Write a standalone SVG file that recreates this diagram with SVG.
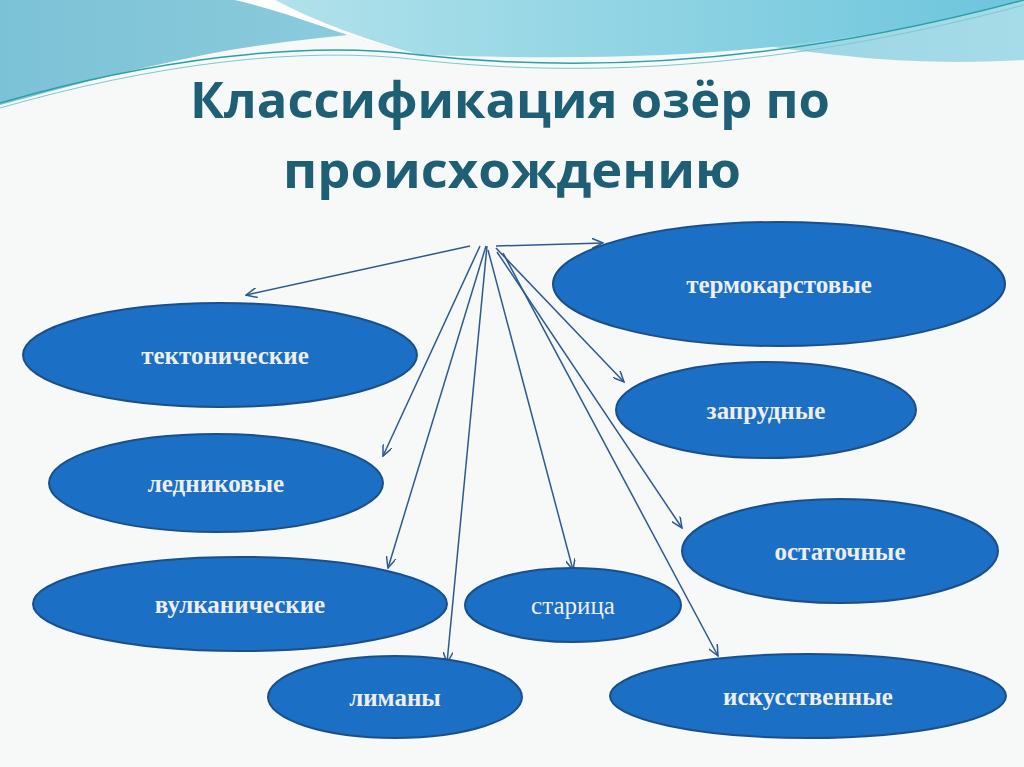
<svg xmlns="http://www.w3.org/2000/svg" width="1024" height="767" viewBox="0 0 1024 767">
<defs>
<style>
.n{fill:#1b6fc4;stroke:#1a4f8a;stroke-width:2}
.t{font-family:"Liberation Serif",serif;font-weight:bold;font-size:25px;fill:#eeeeee;text-anchor:middle}
.c line{stroke:#2d5a8e;stroke-width:1.5;marker-end:url(#a)}
</style>
<marker id="a" markerWidth="12" markerHeight="10" refX="11" refY="5" orient="auto" markerUnits="userSpaceOnUse"><path d="M0,0 L11,5 L0,10" fill="none" stroke="#2d5a8e" stroke-width="1.5"/></marker>
<linearGradient id="g1" x1="0" y1="0" x2="1" y2="0"><stop offset="0" stop-color="#7cc2d6"/><stop offset="1" stop-color="#a6dce8"/></linearGradient>
<linearGradient id="g2" x1="0" y1="0" x2="1" y2="0"><stop offset="0" stop-color="#b5e3ec"/><stop offset="1" stop-color="#6cc5dc"/></linearGradient>
</defs>
<rect width="1024" height="767" fill="#f7f8f8"/>
<path d="M0,0 H1024 V60 C930,65 860,60 760,45 C600,20 420,20 230,50 C120,70 40,95 0,105 Z" fill="url(#g1)"/>
<path d="M250,0 C380,20 480,50 560,70 C660,70 760,60 1024,10 V0 Z" fill="#ffffff" opacity="0"/>
<path d="M235,0 C300,15 350,40 420,55 C600,60 800,62 1024,0 Z" fill="url(#g2)"/>
<path d="M235,0 C300,15 350,40 420,55 C350,35 310,18 275,0 Z" fill="#ffffff"/>
<path d="M0,103 C150,60 300,40 420,55 C600,75 800,60 1024,0" fill="none" stroke="#2ba0a8" stroke-width="1.5"/>
<path d="M0,108 C150,65 300,45 420,60 C600,80 800,65 1024,5" fill="none" stroke="#7fc9d0" stroke-width="1"/>
<g id="title" font-family="'Open Sans',sans-serif" font-weight="bold" font-size="50" fill="#1f5f76" text-anchor="middle">
<text x="510" y="118" textLength="640" lengthAdjust="spacingAndGlyphs">Классификация озёр по</text>
<text x="512" y="188" textLength="458" lengthAdjust="spacingAndGlyphs">происхождению</text>
</g>
<g class="c" id="connectors">
<line x1="470" y1="246" x2="246" y2="295"/>
<line x1="480" y1="246" x2="383" y2="456"/>
<line x1="486" y1="246" x2="388" y2="568"/>
<line x1="487" y1="246" x2="447" y2="663"/>
<line x1="488" y1="250" x2="573" y2="570"/>
<line x1="496" y1="248" x2="624" y2="382"/>
<line x1="497" y1="252" x2="682" y2="528"/>
<line x1="503" y1="253" x2="718" y2="656"/>
<line x1="496" y1="246" x2="603" y2="243"/>
</g>
<g id="n1"><ellipse class="n" cx="779" cy="284" rx="226" ry="62"/><text class="t" x="779" y="293">термокарстовые</text></g>
<g id="n2"><ellipse class="n" cx="220" cy="355" rx="197" ry="52"/><text class="t" x="225" y="364">тектонические</text></g>
<g id="n3"><ellipse class="n" cx="766" cy="410" rx="150" ry="48"/><text class="t" x="766" y="419">запрудные</text></g>
<g id="n4"><ellipse class="n" cx="216" cy="483" rx="167" ry="49"/><text class="t" x="216" y="492">ледниковые</text></g>
<g id="n5"><ellipse class="n" cx="840" cy="551" rx="158" ry="52"/><text class="t" x="840" y="560">остаточные</text></g>
<g id="n6"><ellipse class="n" cx="240" cy="604" rx="207" ry="47"/><text class="t" x="240" y="613">вулканические</text></g>
<g id="n7"><ellipse class="n" cx="573" cy="605" rx="108" ry="37"/><text class="t" x="573" y="614" style="font-weight:normal">старица</text></g>
<g id="n8"><ellipse class="n" cx="395" cy="697" rx="127" ry="41"/><text class="t" x="395" y="706">лиманы</text></g>
<g id="n9"><ellipse class="n" cx="808" cy="696" rx="198" ry="42"/><text class="t" x="808" y="705">искусственные</text></g>
</svg>
